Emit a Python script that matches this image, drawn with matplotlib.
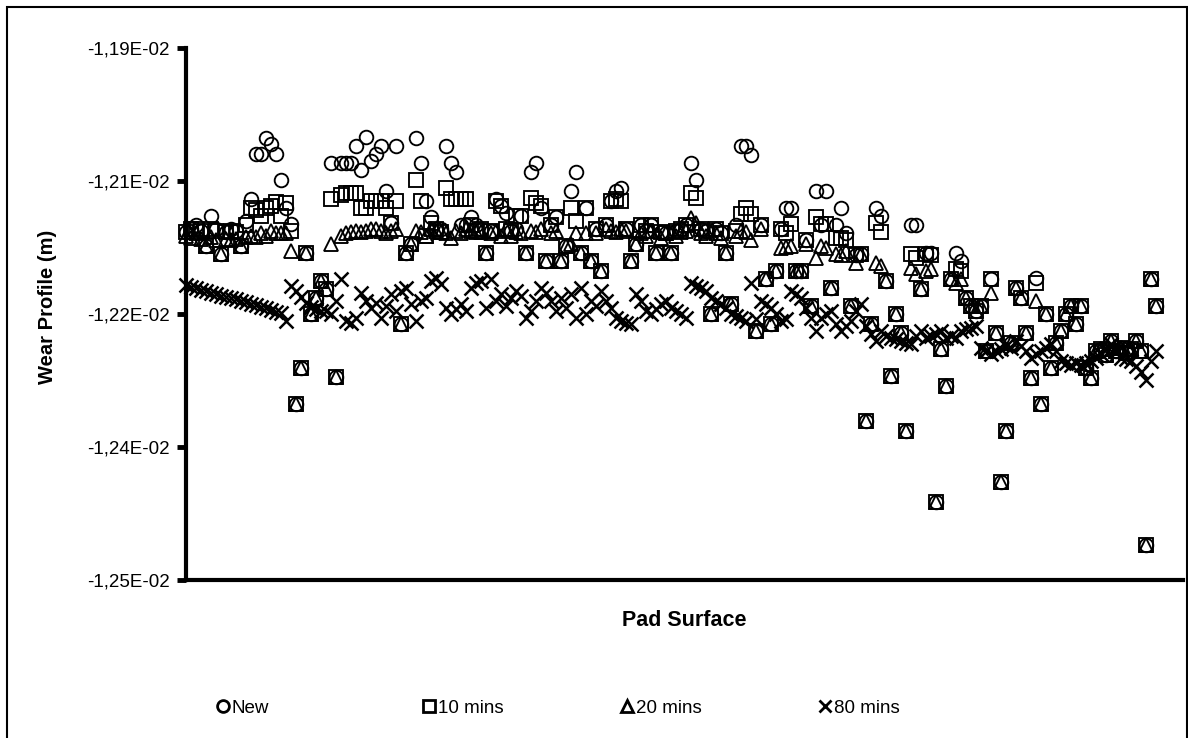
import numpy as np
import matplotlib.pyplot as plt
from matplotlib.lines import Line2D
from matplotlib.patches import Rectangle

plt.rcParams['font.family'] = ['Liberation Sans', 'DejaVu Sans']

# Wear profile along the pad surface, micrometres, one value per measuring point
new_um = [
    -12108, -12104, -12100, -12106, -12123, -12089, -12104, -12132, -12108, -12104,
    -12106, -12123, -12095, -12070, -12019, -12019, -12001, -12008, -12019, -12049,
    -12080, -12098, -12301, -12261, -12131, -12200, -12182, -12163, -12172, -12030,
    -12271, -12030, -12030, -12030, -12010, -12038, -12000, -12027, -12019, -12010,
    -12061, -12097, -12010, -12211, -12131, -12121, -12001, -12030, -12072, -12091,
    -12104, -12104, -12010, -12030, -12040, -12100, -12100, -12091, -12100, -12104,
    -12131, -12106, -12070, -12078, -12086, -12106, -12104, -12089, -12131, -12040,
    -12030, -12080, -12140, -12100, -12091, -12140, -12123, -12061, -12040, -12131,
    -12080, -12140, -12104, -12151, -12100, -12072, -12061, -12058, -12104, -12140,
    -12121, -12100, -12106, -12100, -12131, -12108, -12109, -12131, -12106, -12104,
    -12100, -12030, -12049, -12104, -12106, -12200, -12104, -12109, -12131, -12189,
    -12100, -12010, -12010, -12021, -12219, -12100, -12160, -12211, -12151, -12104,
    -12080, -12080, -12151, -12151, -12117, -12191, -12061, -12100, -12061, -12171,
    -12100, -12080, -12109, -12191, -12134, -12132, -12321, -12211, -12080, -12089,
    -12163, -12270, -12200, -12221, -12332, -12100, -12100, -12172, -12131, -12131,
    -12412, -12240, -12281, -12160, -12131, -12140, -12182, -12191, -12197, -12191,
    -12242, -12160, -12221, -12390, -12332, -12233, -12171, -12182, -12221, -12272,
    -12159, -12302, -12200, -12261, -12233, -12219, -12200, -12191, -12211, -12191,
    -12261, -12272, -12242, -12240, -12246, -12231, -12242, -12238, -12244, -12240,
    -12231, -12242, -12460, -12160, -12191,
]

mins10_um = [
    -12108, -12104, -12104, -12106, -12123, -12104, -12106, -12132, -12108, -12106,
    -12108, -12123, -12100, -12080, -12083, -12089, -12081, -12078, -12074, -12089,
    -12075, -12106, -12301, -12261, -12131, -12200, -12182, -12163, -12172, -12070,
    -12271, -12066, -12063, -12063, -12063, -12080, -12080, -12072, -12072, -12072,
    -12080, -12097, -12072, -12211, -12131, -12121, -12049, -12072, -12112, -12097,
    -12104, -12108, -12058, -12070, -12070, -12070, -12070, -12100, -12106, -12104,
    -12131, -12106, -12072, -12078, -12104, -12106, -12089, -12089, -12131, -12069,
    -12075, -12078, -12140, -12100, -12091, -12140, -12123, -12080, -12095, -12131,
    -12080, -12140, -12104, -12151, -12100, -12072, -12070, -12072, -12104, -12140,
    -12121, -12100, -12106, -12100, -12131, -12108, -12109, -12131, -12106, -12104,
    -12100, -12063, -12069, -12104, -12106, -12200, -12104, -12109, -12131, -12189,
    -12106, -12087, -12080, -12087, -12219, -12100, -12160, -12211, -12151, -12104,
    -12109, -12098, -12151, -12151, -12117, -12191, -12091, -12098, -12098, -12171,
    -12114, -12114, -12117, -12191, -12134, -12132, -12321, -12211, -12097, -12108,
    -12163, -12270, -12200, -12221, -12332, -12132, -12137, -12172, -12132, -12134,
    -12412, -12240, -12281, -12160, -12149, -12151, -12182, -12191, -12197, -12191,
    -12242, -12160, -12221, -12390, -12332, -12233, -12171, -12182, -12221, -12272,
    -12165, -12302, -12200, -12261, -12233, -12219, -12200, -12191, -12211, -12191,
    -12261, -12272, -12242, -12240, -12246, -12231, -12242, -12238, -12244, -12240,
    -12231, -12242, -12460, -12160, -12191,
]

mins20_um = [
    -12112, -12114, -12109, -12115, -12123, -12113, -12117, -12132, -12115, -12117,
    -12115, -12123, -12113, -12112, -12113, -12109, -12112, -12106, -12109, -12109,
    -12109, -12129, -12301, -12261, -12131, -12200, -12182, -12163, -12172, -12121,
    -12271, -12112, -12109, -12108, -12106, -12108, -12106, -12104, -12104, -12106,
    -12109, -12106, -12104, -12211, -12131, -12121, -12106, -12108, -12112, -12104,
    -12106, -12108, -12109, -12114, -12106, -12109, -12104, -12106, -12108, -12108,
    -12131, -12109, -12106, -12112, -12104, -12112, -12108, -12109, -12131, -12106,
    -12108, -12104, -12140, -12109, -12106, -12140, -12123, -12121, -12109, -12131,
    -12109, -12140, -12109, -12151, -12104, -12106, -12108, -12104, -12106, -12140,
    -12121, -12109, -12112, -12106, -12131, -12114, -12109, -12131, -12112, -12108,
    -12106, -12092, -12097, -12109, -12112, -12200, -12109, -12114, -12131, -12189,
    -12112, -12106, -12108, -12117, -12219, -12104, -12160, -12211, -12151, -12126,
    -12125, -12123, -12151, -12151, -12121, -12191, -12137, -12123, -12126, -12171,
    -12132, -12134, -12129, -12191, -12142, -12132, -12321, -12211, -12143, -12146,
    -12163, -12270, -12200, -12221, -12332, -12148, -12155, -12172, -12151, -12149,
    -12412, -12240, -12281, -12160, -12165, -12160, -12182, -12191, -12197, -12191,
    -12242, -12176, -12221, -12390, -12332, -12233, -12171, -12182, -12221, -12272,
    -12185, -12302, -12200, -12261, -12233, -12219, -12200, -12191, -12211, -12191,
    -12261, -12272, -12242, -12240, -12246, -12231, -12242, -12238, -12244, -12240,
    -12231, -12242, -12460, -12160, -12191,
]

mins80_um = [
    -12167, -12169, -12171, -12173, -12174, -12176, -12177, -12180, -12181, -12182,
    -12183, -12185, -12186, -12189, -12190, -12192, -12193, -12195, -12198, -12199,
    -12208, -12168, -12174, -12181, -12188, -12192, -12194, -12197, -12197, -12200,
    -12185, -12160, -12208, -12210, -12205, -12176, -12185, -12193, -12188, -12205,
    -12191, -12177, -12197, -12174, -12171, -12189, -12208, -12185, -12182, -12163,
    -12159, -12166, -12193, -12200, -12194, -12189, -12197, -12171, -12165, -12163,
    -12193, -12160, -12185, -12177, -12191, -12182, -12174, -12180, -12205, -12197,
    -12185, -12171, -12176, -12185, -12197, -12182, -12193, -12177, -12205, -12171,
    -12200, -12185, -12191, -12174, -12185, -12193, -12205, -12208, -12210, -12211,
    -12177, -12185, -12197, -12200, -12194, -12189, -12185, -12193, -12197, -12200,
    -12205, -12165, -12168, -12171, -12174, -12182, -12185, -12189, -12193, -12200,
    -12202, -12205, -12208, -12165, -12206, -12185, -12189, -12193, -12200, -12208,
    -12206, -12174, -12177, -12182, -12193, -12205, -12219, -12205, -12200, -12197,
    -12211, -12219, -12214, -12208, -12197, -12189, -12214, -12223, -12231, -12219,
    -12225, -12227, -12228, -12231, -12233, -12234, -12225, -12219, -12227, -12225,
    -12223, -12219, -12227, -12225, -12227, -12219, -12217, -12216, -12214, -12238,
    -12242, -12245, -12242, -12240, -12236, -12238, -12231, -12236, -12242, -12250,
    -12245, -12242, -12238, -12234, -12242, -12253, -12255, -12257, -12255, -12257,
    -12255, -12253, -12250, -12245, -12240, -12234, -12242, -12250, -12251, -12253,
    -12259, -12265, -12274, -12253, -12242,
]

series_names = ['New', '10 mins', '20 mins', '80 mins']
ytick_vals = [-0.0125, -0.01235, -0.0122, -0.01205, -0.0119]
ytick_labels = ['-1,25E-02', '-1,24E-02', '-1,22E-02', '-1,21E-02', '-1,19E-02']

W, H = 1188, 738
fig = plt.figure(figsize=(W / 100, H / 100), dpi=100)
ax = fig.add_axes([185.5 / W, 1 - 580 / H, (1183 - 185.5) / W, (580 - 48) / H])

x = np.arange(len(new_um))
styles = [
    dict(marker='o', ms=9.8, mew=1.35),
    dict(marker='s', ms=10.2, mew=1.35),
    dict(marker='^', ms=10.2, mew=1.35),
    dict(marker='x', ms=10.5, mew=1.8),
]
all_series = [new_um, mins10_um, mins20_um, mins80_um]

for vals, st in zip(all_series, styles):
    ax.plot(x, np.array(vals) * 1e-6, linestyle='none', mfc='none',
            mec='black', color='black', clip_on=False, **st)

ax.set_xlim(0, (1183 - 185.5) / 5)
ax.set_ylim(-0.0125, -0.0119)
ax.set_xticks([])
ax.set_yticks(ytick_vals)
ax.set_yticklabels(ytick_labels)
ax.tick_params(axis='y', direction='out', length=6.5, width=3.5, pad=5, labelsize=13.5)

for side in ['top', 'right']:
    ax.spines[side].set_visible(False)
for side in ['left', 'bottom']:
    ax.spines[side].set_linewidth(3)

ax.set_ylabel('Wear Profile (m)', fontsize=14.5, fontweight='bold', va='center')
ax.yaxis.set_label_coords((48 - 185.5) / (1183 - 185.5), (580 - 307) / 532)
ax.set_xlabel('Pad Surface', fontsize=15.5, fontweight='bold', va='center')
ax.xaxis.set_label_coords(0.5, (580 - 621) / 532)

# legend: four entries spread along the bottom
leg_x = [215, 421, 619, 817]
for name, st, lx in zip(series_names, styles, leg_x):
    h = Line2D([], [], linestyle='none', marker=st['marker'], ms=8.5,
               mfc='none', mec='black', mew=2.0)
    fig.legend(handles=[h], labels=[name], loc='center left',
               bbox_to_anchor=(lx / W, 1 - 708 / H), frameon=False,
               handlelength=0.8, handletextpad=0.1, borderpad=0,
               borderaxespad=0, fontsize=13.5)

# outer chart border
fig.add_artist(Rectangle((7 / W, -0.05), (1187 - 7) / W, 1 - 7 / H + 0.05,
                         transform=fig.transFigure, fill=False, lw=1.5, ec='black'))

fig.savefig('out.png', dpi=100)
